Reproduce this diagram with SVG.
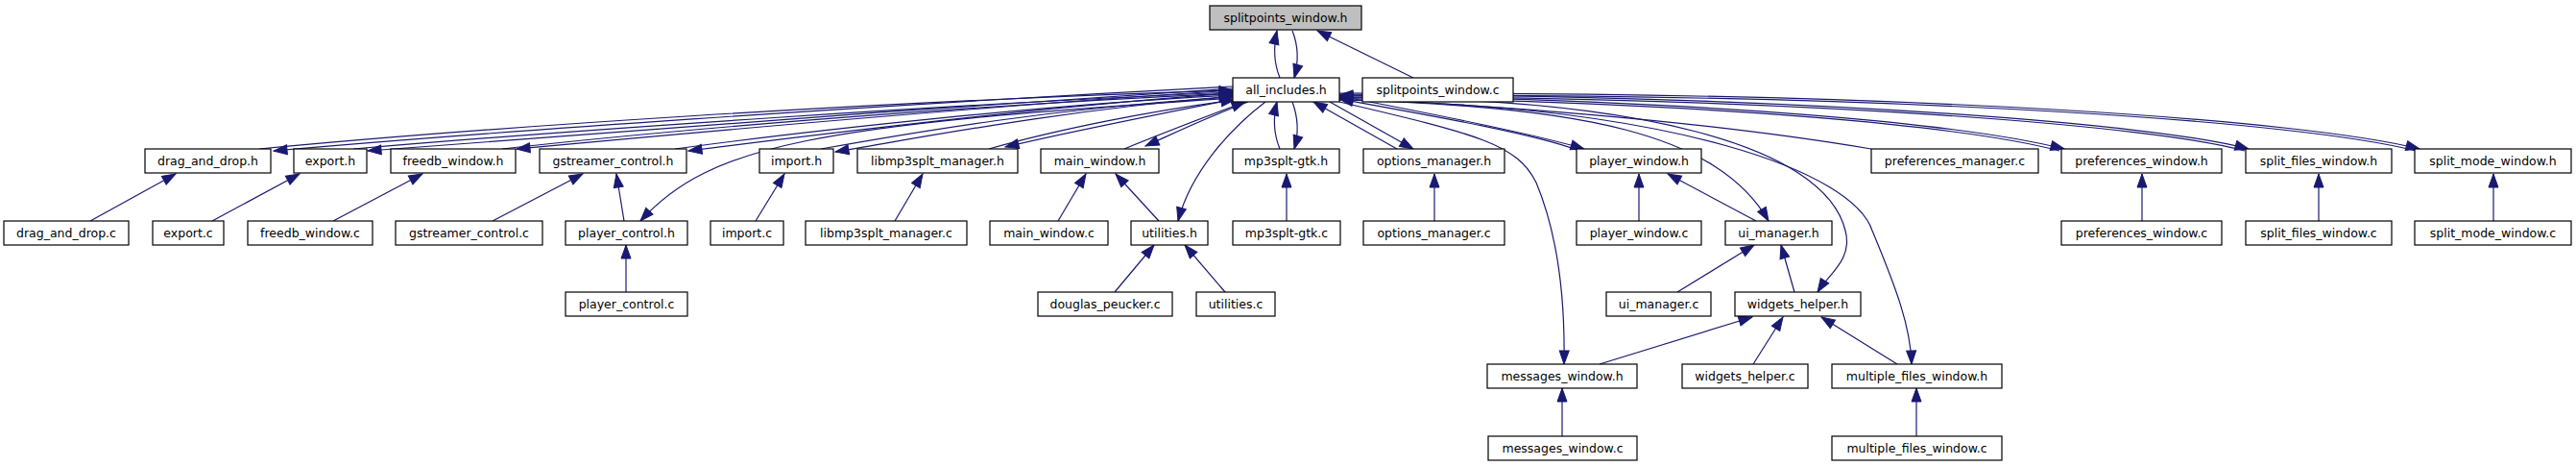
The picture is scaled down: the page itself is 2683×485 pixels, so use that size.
<svg xmlns="http://www.w3.org/2000/svg" width="2683" height="485" viewBox="0 0 2683 485">
<style>
.n rect{fill:#ffffff;stroke:#000000;stroke-width:1.2}
.n.main rect{fill:#bfbfbf}
.n text{font-family:"DejaVu Sans",sans-serif;font-size:12.5px;fill:#000;text-anchor:middle}
.e path{fill:none;stroke:#191970;stroke-width:1.2;marker-end:url(#a)}
</style>
<defs>
<marker id="a" markerUnits="userSpaceOnUse" markerWidth="15" markerHeight="11" refX="14" refY="5" orient="auto" overflow="visible">
<path d="M0,0 L14,5 L0,10 z" fill="#191970" stroke="#191970" stroke-width="1"/>
</marker>
</defs>
<rect width="2683" height="485" fill="#ffffff"/>
<g id="edges" class="e">
<path d="M1333,81 C1327,66 1326,50 1330,32"/>
<path d="M1346,32 C1352,47 1353,63 1348,81"/>
<path d="M1472,81 L1372,32"/>
<path d="M1284,90 C900,110 500,138 285,157"/>
<path d="M270,155 C500,133 900,106 1284,94"/>
<path d="M1284,92 C1000,110 600,140 383,157"/>
<path d="M368,155 C600,135 1000,108 1284,96"/>
<path d="M1284,94 C1000,112 700,140 538,155"/>
<path d="M523,155 C700,135 1000,110 1284,97"/>
<path d="M1284,97 C1100,110 850,140 717,157"/>
<path d="M703,155 C850,135 1100,108 1284,99"/>
<path d="M1284,100 C1100,115 950,145 870,158"/>
<path d="M855,155 C950,138 1100,112 1284,101"/>
<path d="M1286,103 C1200,120 1100,140 1047,153"/>
<path d="M1030,155 C1100,135 1200,115 1286,104"/>
<path d="M1300,106 C1250,125 1220,140 1193,152"/>
<path d="M1171,155 C1220,135 1260,120 1297,106"/>
<path d="M1284,102 C850,130 740,150 667,230"/>
<path d="M1318,106 C1280,135 1240,180 1227,230"/>
<path d="M1333,155 C1326,138 1326,122 1330,106"/>
<path d="M1346,106 C1352,122 1353,138 1348,155"/>
<path d="M1385,106 L1472,155"/>
<path d="M1455,155 L1368,106"/>
<path d="M1395,100 C1500,120 1600,140 1650,155"/>
<path d="M1642,156 C1600,140 1500,122 1395,103"/>
<path d="M1949,155 C1800,130 1600,112 1395,102"/>
<path d="M1395,99 C1800,105 2050,130 2150,155"/>
<path d="M2145,157 C2050,132 1800,107 1395,101"/>
<path d="M1395,98 C1900,100 2250,130 2342,155"/>
<path d="M2338,157 C2250,132 1900,102 1395,100"/>
<path d="M1395,97 C2000,95 2400,125 2520,155"/>
<path d="M2516,157 C2400,127 2000,97 1395,99"/>
<path d="M1395,104 C1650,110 1790,140 1842,230"/>
<path d="M1395,106 C1540,140 1580,150 1600,190 C1625,250 1630,320 1629,379"/>
<path d="M1395,102 C1700,100 1900,150 1922,240 C1930,270 1905,285 1893,304"/>
<path d="M1395,104 C1750,110 1930,180 1950,240 C1975,300 1990,340 1991,379"/>
<path d="M94,230 L183,181"/>
<path d="M221,230 L312,181"/>
<path d="M347,230 L440,181"/>
<path d="M513,230 L607,181"/>
<path d="M650,230 L642,181"/>
<path d="M787,230 L817,181"/>
<path d="M932,230 L961,181"/>
<path d="M1102,230 L1131,181"/>
<path d="M1207,230 L1162,181"/>
<path d="M1340,230 L1340,181"/>
<path d="M1494,230 L1494,181"/>
<path d="M1707,230 L1707,181"/>
<path d="M1829,230 L1737,181"/>
<path d="M2231,230 L2231,181"/>
<path d="M2415,230 L2415,181"/>
<path d="M2597,230 L2597,181"/>
<path d="M652,304 L652,255"/>
<path d="M1161,304 L1202,255"/>
<path d="M1276,304 L1234,255"/>
<path d="M1747,304 L1827,255"/>
<path d="M1869,304 L1855,255"/>
<path d="M1666,379 L1825,330"/>
<path d="M1826,379 L1857,330"/>
<path d="M1976,379 L1897,330"/>
<path d="M1627,454 L1627,404"/>
<path d="M1996,454 L1996,404"/>
</g>
<g id="splitpoints_window_h" class="n main"><rect x="1260" y="6" width="158" height="25"/><text x="1339" y="22.5">splitpoints_window.h</text></g>
<g id="all_includes_h" class="n"><rect x="1284" y="81" width="111" height="25"/><text x="1339.5" y="97.5">all_includes.h</text></g>
<g id="splitpoints_window_c" class="n"><rect x="1419" y="81" width="157" height="25"/><text x="1497.5" y="97.5">splitpoints_window.c</text></g>
<g id="drag_and_drop_h" class="n"><rect x="151" y="155" width="131" height="25"/><text x="216.5" y="171.5">drag_and_drop.h</text></g>
<g id="export_h" class="n"><rect x="306" y="155" width="76" height="25"/><text x="344" y="171.5">export.h</text></g>
<g id="freedb_window_h" class="n"><rect x="407" y="155" width="130" height="25"/><text x="472" y="171.5">freedb_window.h</text></g>
<g id="gstreamer_control_h" class="n"><rect x="562" y="155" width="153" height="25"/><text x="638.5" y="171.5">gstreamer_control.h</text></g>
<g id="import_h" class="n"><rect x="791" y="155" width="77" height="25"/><text x="829.5" y="171.5">import.h</text></g>
<g id="libmp3splt_manager_h" class="n"><rect x="893" y="155" width="167" height="25"/><text x="976.5" y="171.5">libmp3splt_manager.h</text></g>
<g id="main_window_h" class="n"><rect x="1084" y="155" width="123" height="25"/><text x="1145.5" y="171.5">main_window.h</text></g>
<g id="mp3splt_gtk_h" class="n"><rect x="1284" y="155" width="111" height="25"/><text x="1339.5" y="171.5">mp3splt-gtk.h</text></g>
<g id="options_manager_h" class="n"><rect x="1420" y="155" width="147" height="25"/><text x="1493.5" y="171.5">options_manager.h</text></g>
<g id="player_window_h" class="n"><rect x="1642" y="155" width="130" height="25"/><text x="1707" y="171.5">player_window.h</text></g>
<g id="preferences_manager_c" class="n"><rect x="1949" y="155" width="174" height="25"/><text x="2036" y="171.5">preferences_manager.c</text></g>
<g id="preferences_window_h" class="n"><rect x="2147" y="155" width="167" height="25"/><text x="2230.5" y="171.5">preferences_window.h</text></g>
<g id="split_files_window_h" class="n"><rect x="2339" y="155" width="152" height="25"/><text x="2415" y="171.5">split_files_window.h</text></g>
<g id="split_mode_window_h" class="n"><rect x="2515" y="155" width="163" height="25"/><text x="2596.5" y="171.5">split_mode_window.h</text></g>
<g id="drag_and_drop_c" class="n"><rect x="4" y="230" width="130" height="25"/><text x="69" y="246.5">drag_and_drop.c</text></g>
<g id="export_c" class="n"><rect x="159" y="230" width="74" height="25"/><text x="196" y="246.5">export.c</text></g>
<g id="freedb_window_c" class="n"><rect x="258" y="230" width="130" height="25"/><text x="323" y="246.5">freedb_window.c</text></g>
<g id="gstreamer_control_c" class="n"><rect x="412" y="230" width="153" height="25"/><text x="488.5" y="246.5">gstreamer_control.c</text></g>
<g id="player_control_h" class="n"><rect x="589" y="230" width="127" height="25"/><text x="652.5" y="246.5">player_control.h</text></g>
<g id="import_c" class="n"><rect x="740" y="230" width="76" height="25"/><text x="778" y="246.5">import.c</text></g>
<g id="libmp3splt_manager_c" class="n"><rect x="839" y="230" width="168" height="25"/><text x="923" y="246.5">libmp3splt_manager.c</text></g>
<g id="main_window_c" class="n"><rect x="1031" y="230" width="123" height="25"/><text x="1092.5" y="246.5">main_window.c</text></g>
<g id="utilities_h" class="n"><rect x="1178" y="230" width="80" height="25"/><text x="1218" y="246.5">utilities.h</text></g>
<g id="mp3splt_gtk_c" class="n"><rect x="1284" y="230" width="112" height="25"/><text x="1340" y="246.5">mp3splt-gtk.c</text></g>
<g id="options_manager_c" class="n"><rect x="1420" y="230" width="147" height="25"/><text x="1493.5" y="246.5">options_manager.c</text></g>
<g id="player_window_c" class="n"><rect x="1642" y="230" width="130" height="25"/><text x="1707" y="246.5">player_window.c</text></g>
<g id="ui_manager_h" class="n"><rect x="1797" y="230" width="111" height="25"/><text x="1852.5" y="246.5">ui_manager.h</text></g>
<g id="preferences_window_c" class="n"><rect x="2147" y="230" width="167" height="25"/><text x="2230.5" y="246.5">preferences_window.c</text></g>
<g id="split_files_window_c" class="n"><rect x="2339" y="230" width="152" height="25"/><text x="2415" y="246.5">split_files_window.c</text></g>
<g id="split_mode_window_c" class="n"><rect x="2515" y="230" width="163" height="25"/><text x="2596.5" y="246.5">split_mode_window.c</text></g>
<g id="player_control_c" class="n"><rect x="589" y="304" width="127" height="25"/><text x="652.5" y="320.5">player_control.c</text></g>
<g id="douglas_peucker_c" class="n"><rect x="1081" y="304" width="140" height="25"/><text x="1151" y="320.5">douglas_peucker.c</text></g>
<g id="utilities_c" class="n"><rect x="1246" y="304" width="82" height="25"/><text x="1287" y="320.5">utilities.c</text></g>
<g id="ui_manager_c" class="n"><rect x="1673" y="304" width="109" height="25"/><text x="1727.5" y="320.5">ui_manager.c</text></g>
<g id="widgets_helper_h" class="n"><rect x="1807" y="304" width="131" height="25"/><text x="1872.5" y="320.5">widgets_helper.h</text></g>
<g id="messages_window_h" class="n"><rect x="1549" y="379" width="156" height="25"/><text x="1627" y="395.5">messages_window.h</text></g>
<g id="widgets_helper_c" class="n"><rect x="1752" y="379" width="131" height="25"/><text x="1817.5" y="395.5">widgets_helper.c</text></g>
<g id="multiple_files_window_h" class="n"><rect x="1908" y="379" width="177" height="25"/><text x="1996.5" y="395.5">multiple_files_window.h</text></g>
<g id="messages_window_c" class="n"><rect x="1550" y="454" width="155" height="25"/><text x="1627.5" y="470.5">messages_window.c</text></g>
<g id="multiple_files_window_c" class="n"><rect x="1908" y="454" width="177" height="25"/><text x="1996.5" y="470.5">multiple_files_window.c</text></g>
</svg>
